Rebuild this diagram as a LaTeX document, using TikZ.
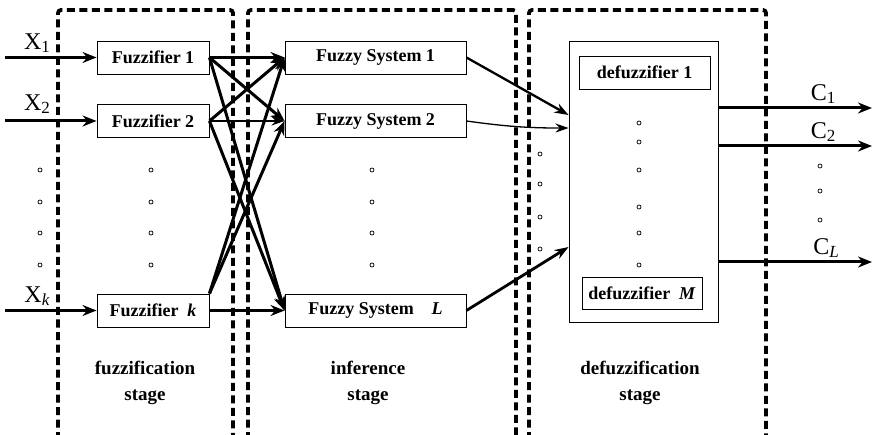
\documentclass[tikz,border=0pt]{standalone}
\usepackage{fontspec}
\setmainfont{Liberation Serif}
\usetikzlibrary{arrows.meta,calc}
\newcommand\subsz{\fontsize{17}{17}\selectfont}

\begin{document}
\begin{tikzpicture}[x=1pt,y=-1pt,
  stagebox/.style={line width=3.8pt,dash pattern=on 8pt off 4.5pt,rounded corners=3pt},
  unitbox/.style={draw,line width=0.9pt,minimum height=33pt,inner sep=0pt,
     font=\fontsize{18}{20}\selectfont\bfseries},
  fuzbox/.style={unitbox,minimum width=112pt},
  sysbox/.style={unitbox,minimum width=181pt},
  flow/.style={line width=3pt,-{Stealth[length=14pt,width=11pt]}},
  thinflow/.style={line width=1.3pt,-{Stealth[length=13pt,width=9pt]}},
  dotmark/.style={draw,circle,line width=0.7pt,minimum size=4pt,inner sep=0pt},
  varlabel/.style={font=\fontsize{24}{26}\selectfont,inner sep=0pt},
  stagelabel/.style={align=center,font=\fontsize{19}{26}\selectfont\bfseries}
]
\useasboundingbox (0,0) rectangle (872,435);

% stage frames, open at the bottom
\draw[stagebox] (58,440) -- (58,10) -- (233,10) -- (233,440);
\draw[stagebox] (248,440) -- (248,10) -- (516,10) -- (516,440);
\draw[stagebox] (529,440) -- (529,10) -- (766,10) -- (766,440);

% fuzzifiers
\node[fuzbox] (f1) at (153,57.5) {Fuzzifier 1};
\node[fuzbox] (f2) at (153,121) {Fuzzifier 2};
\node[fuzbox] (fk) at (153,310.5) {Fuzzifier\ \ \textit{k}};

% fuzzy systems
\node[sysbox] (s1) at (375.5,57.5) {Fuzzy System 1};
\node[sysbox] (s2) at (375.5,121) {Fuzzy System 2};
\node[sysbox] (sl) at (375.5,310.5) {Fuzzy System\ \ \ \ \textit{L}};

% defuzzification block
\node[draw,line width=0.9pt,minimum width=149pt,minimum height=281pt,inner sep=0pt] (dz) at (643.5,181.5) {};
\node[unitbox,minimum width=131pt] (d1) at (644.5,72.5) {defuzzifier 1};
\node[unitbox,minimum width=120pt,minimum height=32pt] (dm) at (642,293) {defuzzifier\ \ \textit{M}};

% inputs
\coordinate (in1) at (5,57.5);
\coordinate (in2) at (5,121);
\coordinate (ink) at (5,310.5);
\draw[flow] (in1) -- (f1.west);
\draw[flow] (in2) -- (f2.west);
\draw[flow] (ink) -- (fk.west);
\node[varlabel] (lx1) at (37,43) {X\raisebox{-0.3ex}{\subsz 1}};
\node[varlabel] (lx2) at (37,104) {X\raisebox{-0.3ex}{\subsz 2}};
\node[varlabel] (lxk) at (37,296) {X\raisebox{-0.3ex}{\subsz\textit{k}}};

% fuzzifiers to fuzzy systems
\draw[flow] (f1.east) -- (s1.west);
\draw[flow] (f1.east) -- (s2.west);
\draw[flow] (f1.east) -- (sl.west);
\draw[flow] (f2.east) -- (s1.west);
\draw[thinflow] (f2.east) -- (s2.west);
\draw[flow] (f2.east) -- (sl.west);
\draw[flow] (fk.north east) -- (s1.west);
\draw[flow] (fk.north east) -- (s2.west);
\draw[flow] (fk.east) -- (sl.west);

% fuzzy systems to defuzzification block
\draw[line width=2.3pt,-{Stealth[length=14pt,width=10pt]}] (s1.east) -- ([yshift=66.5pt]dz.west);
\draw[thinflow] (s2.east) to[bend right=4] ([yshift=53.5pt]dz.west);
\draw[line width=2.8pt,-{Stealth[length=14pt,width=10pt]}] (sl.east) -- ([yshift=-65.5pt]dz.west);

% outputs
\coordinate (out1) at (872,108);
\coordinate (out2) at (872,146);
\coordinate (outl) at (872,262);
\draw[flow] (dz.east |- out1) -- (out1);
\draw[flow] (dz.east |- out2) -- (out2);
\draw[flow] (dz.east |- outl) -- (outl);
\node[varlabel] (lc1) at (823,94) {C\raisebox{-0.3ex}{\subsz 1}};
\node[varlabel] (lc2) at (823,132) {C\raisebox{-0.3ex}{\subsz 2}};
\node[varlabel] (lcl) at (826,248) {C\raisebox{-0.3ex}{\subsz\textit{L}}};

% ellipsis marks
\foreach \yy in {170,202,233,265} {
  \node[dotmark] at (40,\yy) {};
  \node[dotmark] at (151,\yy) {};
  \node[dotmark] at (372,\yy) {};
}
\foreach \yy in {154,184,217,249} \node[dotmark] at (540,\yy) {};
\foreach \yy in {123,142,170,207,233,265} \node[dotmark] at (639,\yy) {};
\foreach \yy in {166,191,220} \node[dotmark] at (820,\yy) {};

% stage captions
\node[stagelabel] (c1) at (145,383) {fuzzification\\stage};
\node[stagelabel] (c2) at (368,383) {inference\\stage};
\node[stagelabel] (c3) at (640,383) {defuzzification\\stage};
\end{tikzpicture}
\end{document}
